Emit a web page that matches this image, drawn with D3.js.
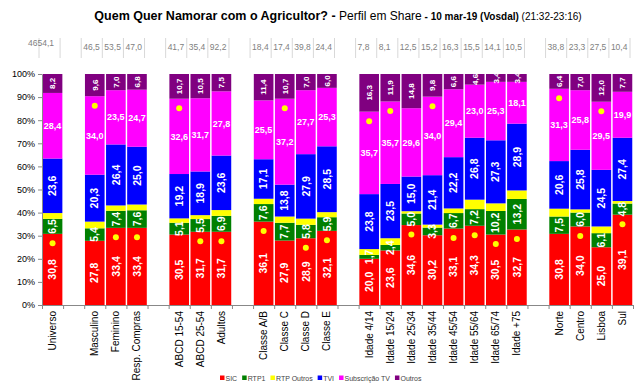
<!DOCTYPE html>
<html>
<head>
<meta charset="utf-8">
<script src="https://cdn.jsdelivr.net/npm/d3@7"></script>
<style>
  body { margin: 0; background: #fff; }
  svg { font-family: "Liberation Sans", Arial, sans-serif; }
</style>
</head>
<body>
<div id="chart"></div>
<script>
// categories, in groups (a blank slot sits between groups)
const groups = [
  ["Universo"],
  ["Masculino", "Feminino", "Resp. Compras"],
  ["ABCD 15-54", "ABCD 25-54", "Adultos"],
  ["Classe A/B", "Classe C", "Classe D", "Classe E"],
  ["Idade 4/14", "Idade 15/24", "Idade 25/34", "Idade 35/44", "Idade 45/54", "Idade 55/64", "Idade 65/74", "Idade +75"],
  ["Norte", "Centro", "Lisboa", "Sul"]
];

const seriesNames = ["SIC", "RTP1", "RTP Outros", "TVI", "Subscrição TV", "Outros"];
const seriesColors = ["#ff0000", "#008000", "#ffff00", "#0000ff", "#ff00ff", "#800080"];

const sic        = [30.8, 27.8, 33.4, 33.4, 30.5, 31.7, 31.7, 36.1, 27.9, 28.9, 32.1, 20.0, 23.6, 34.6, 30.2, 33.1, 34.3, 30.5, 32.7, 30.8, 34.0, 25.0, 39.1];
const rtp1       = [6.5, 5.4, 7.4, 7.6, 5.1, 5.5, 6.9, 7.6, 7.7, 5.8, 5.9, 1.7, 2.4, 5.0, 3.3, 6.7, 7.2, 10.2, 13.2, 7.5, 6.0, 6.1, 4.8];
const rtpOutros  = [2.5, 2.9, 2.3, 2.5, 1.9, 1.7, 2.5, 2.3, 2.7, 2.7, 2.2, 2.5, 2.9, 1.0, 1.3, 2.0, 4.1, 3.3, 3.7, 3.4, 1.4, 2.9, 1.1];
const tvi        = [23.6, 20.3, 26.4, 25.0, 19.2, 18.9, 23.6, 17.1, 13.8, 27.9, 28.5, 23.8, 23.5, 15.0, 21.4, 22.2, 26.8, 27.3, 28.9, 20.6, 25.8, 24.5, 27.4];
const subscricao = [28.4, 34.0, 23.5, 24.7, 32.6, 31.7, 27.8, 25.5, 37.2, 27.7, 25.3, 35.7, 35.7, 29.6, 34.0, 29.4, 23.0, 25.3, 18.1, 31.3, 25.8, 29.5, 19.9];
const outros     = [8.2, 9.6, 7.0, 6.8, 10.7, 10.5, 7.5, 11.4, 10.7, 7.0, 6.0, 16.3, 11.9, 14.8, 9.8, 6.6, 4.6, 3.4, 3.4, 6.4, 7.0, 12.0, 7.7];

// audience (thousands) shown in the row above the bars
const audience = ["4654,1", "46,5", "53,5", "47,0", "41,7", "35,4", "92,2", "18,4", "17,4", "39,8", "24,4",
  "7,8", "8,1", "12,5", "15,2", "16,3", "15,5", "14,1", "10,5", "38,8", "23,3", "27,5", "10,4"];

// which segment carries the yellow marker
const marked = ["SIC", "Subscrição TV", "SIC", "SIC", "Subscrição TV", "SIC", "SIC", "SIC", "Subscrição TV", "SIC", "SIC",
  "Subscrição TV", "Subscrição TV", "SIC", "Subscrição TV", "SIC", "SIC", "SIC", "SIC", "Subscrição TV", "SIC", "Subscrição TV", "SIC"];

const yTicks = [0, 10, 20, 30, 40, 50, 60, 70, 80, 90, 100];

const width = 640, height = 392;
const margin = {top: 74, right: 7, bottom: 87, left: 42};

// build slots: each category gets a slot, one empty slot between groups
const slots = [];
groups.forEach((g, gi) => {
  if (gi > 0) slots.push(null);
  g.forEach(c => slots.push(c));
});
const categories = slots.filter(s => s !== null);

const rows = categories.map((c, i) => ({
  name: c,
  slot: slots.indexOf(c),
  "SIC": sic[i], "RTP1": rtp1[i], "RTP Outros": rtpOutros[i],
  "TVI": tvi[i], "Subscrição TV": subscricao[i], "Outros": outros[i],
  audience: audience[i], marked: marked[i]
}));

const svg = d3.select("#chart").append("svg")
  .attr("width", width).attr("height", height);

const x = d3.scaleBand()
  .domain(d3.range(slots.length))
  .range([margin.left, width - margin.right])
  .paddingInner(0.07)
  .paddingOuter(0.035);

const y = d3.scaleLinear()
  .domain([0, 100])
  .range([height - margin.bottom, margin.top]);

const color = d3.scaleOrdinal().domain(seriesNames).range(seriesColors);

// title
const title = svg.append("text")
  .attr("x", 338).attr("y", 20)
  .attr("text-anchor", "middle")
  .attr("fill", "#000");
title.append("tspan").attr("font-weight", "bold").attr("font-size", "12.5px").text("Quem Quer Namorar com o Agricultor? - ");
title.append("tspan").attr("font-size", "12px").text("Perfil em Share");
title.append("tspan").attr("font-weight", "bold").attr("font-size", "10px").text(" - 10 mar-19 (Vosdal)");
title.append("tspan").attr("font-size", "10px").text(" (21:32-23:16)");

// audience row
const step = x.step();
const edge = i => margin.left + i * step;
const audRow = svg.append("g");
rows.forEach((d, i) => {
  audRow.append("line")
    .attr("x1", edge(d.slot) - 3).attr("x2", edge(d.slot) - 3)
    .attr("y1", 38).attr("y2", 58)
    .attr("stroke", "#d8d8d8").attr("stroke-width", 1);
  const first = i === 0;
  audRow.append("text")
    .attr("x", first ? edge(d.slot) - 14 : edge(d.slot) - 1)
    .attr("y", first ? 46 : 50)
    .attr("font-size", "8.5px")
    .attr("fill", "#808080")
    .text(d.audience);
  const next = rows[i + 1];
  if (!next || next.slot !== d.slot + 1) {
    audRow.append("line")
      .attr("x1", edge(d.slot + 1) - 3).attr("x2", edge(d.slot + 1) - 3)
      .attr("y1", 38).attr("y2", 58)
      .attr("stroke", "#d8d8d8").attr("stroke-width", 1);
  }
});

// stacked bars
const stacked = d3.stack().keys(seriesNames)(rows);

const layer = svg.append("g").selectAll("g")
  .data(stacked)
  .enter().append("g")
  .attr("fill", d => color(d.key));

layer.selectAll("rect")
  .data(d => d)
  .enter().append("rect")
  .attr("x", d => x(d.data.slot))
  .attr("y", d => y(d[1]))
  .attr("width", x.bandwidth())
  .attr("height", d => y(d[0]) - y(d[1]));

// yellow markers
svg.append("g").selectAll("circle")
  .data(rows)
  .enter().append("circle")
  .attr("cx", d => x(d.slot) + x.bandwidth() / 2)
  .attr("cy", d => {
    const s = stacked[seriesNames.indexOf(d.marked)][rows.indexOf(d)];
    return y(s[1]) + 9.5;
  })
  .attr("r", 3)
  .attr("fill", "#ffff00");

// value labels
const labels = svg.append("g").attr("fill", "#fff").attr("font-weight", "bold");
stacked.forEach(s => {
  if (s.key === "RTP Outros") return;
  s.forEach(d => {
    const cx = x(d.data.slot) + x.bandwidth() / 2;
    const cy = (y(d[0]) + y(d[1])) / 2;
    const txt = d3.format(".1f")(d.data[s.key]).replace(".", ",");
    if (s.key === "Subscrição TV") {
      labels.append("text")
        .attr("x", cx).attr("y", cy)
        .attr("dy", "0.35em")
        .attr("text-anchor", "middle")
        .attr("font-size", "9px")
        .text(txt);
    } else {
      labels.append("text")
        .attr("transform", `translate(${cx},${cy}) rotate(-90)`)
        .attr("dy", "0.35em")
        .attr("text-anchor", "middle")
        .attr("font-size", s.key === "Outros" ? "8px" : "10.5px")
        .text(txt);
    }
  });
});

// y axis
const yAxis = svg.append("g")
  .attr("transform", `translate(${margin.left},0)`)
  .call(d3.axisLeft(y).tickValues(yTicks).tickFormat(d => d + "%").tickSize(4).tickSizeOuter(0));
yAxis.selectAll("text").attr("font-size", "9px").attr("fill", "#000").attr("font-family", null);
yAxis.selectAll("line, path").attr("stroke", "#888");

// x axis: boundaries ticks + rotated category labels
const xb = d3.scaleLinear().domain([0, slots.length]).range([margin.left, margin.left + slots.length * step]);
const xAxis = svg.append("g")
  .attr("transform", `translate(0,${height - margin.bottom})`)
  .call(d3.axisBottom(xb).tickValues(d3.range(slots.length + 1)).tickFormat("").tickSize(4).tickSizeOuter(0));
xAxis.selectAll("line, path").attr("stroke", "#888");

svg.append("g").selectAll("text")
  .data(rows)
  .enter().append("text")
  .attr("transform", d => `translate(${x(d.slot) + x.bandwidth() / 2},${height - margin.bottom + 6}) rotate(-90)`)
  .attr("dy", "0.35em")
  .attr("text-anchor", "end")
  .attr("font-size", "10px")
  .attr("fill", "#000")
  .text(d => d.name);

// legend
const legend = svg.append("g").attr("transform", "translate(220,378)");
let lx = 0;
seriesNames.forEach(name => {
  legend.append("rect")
    .attr("x", lx).attr("y", -2.5)
    .attr("width", 4.5).attr("height", 4.5)
    .attr("fill", color(name));
  const t = legend.append("text")
    .attr("x", lx + 5.5).attr("y", 2.5)
    .attr("font-size", "7px")
    .attr("fill", "#444")
    .text(name);
  lx += 5.5 + t.node().getComputedTextLength() + 5;
});
</script>
</body>
</html>
